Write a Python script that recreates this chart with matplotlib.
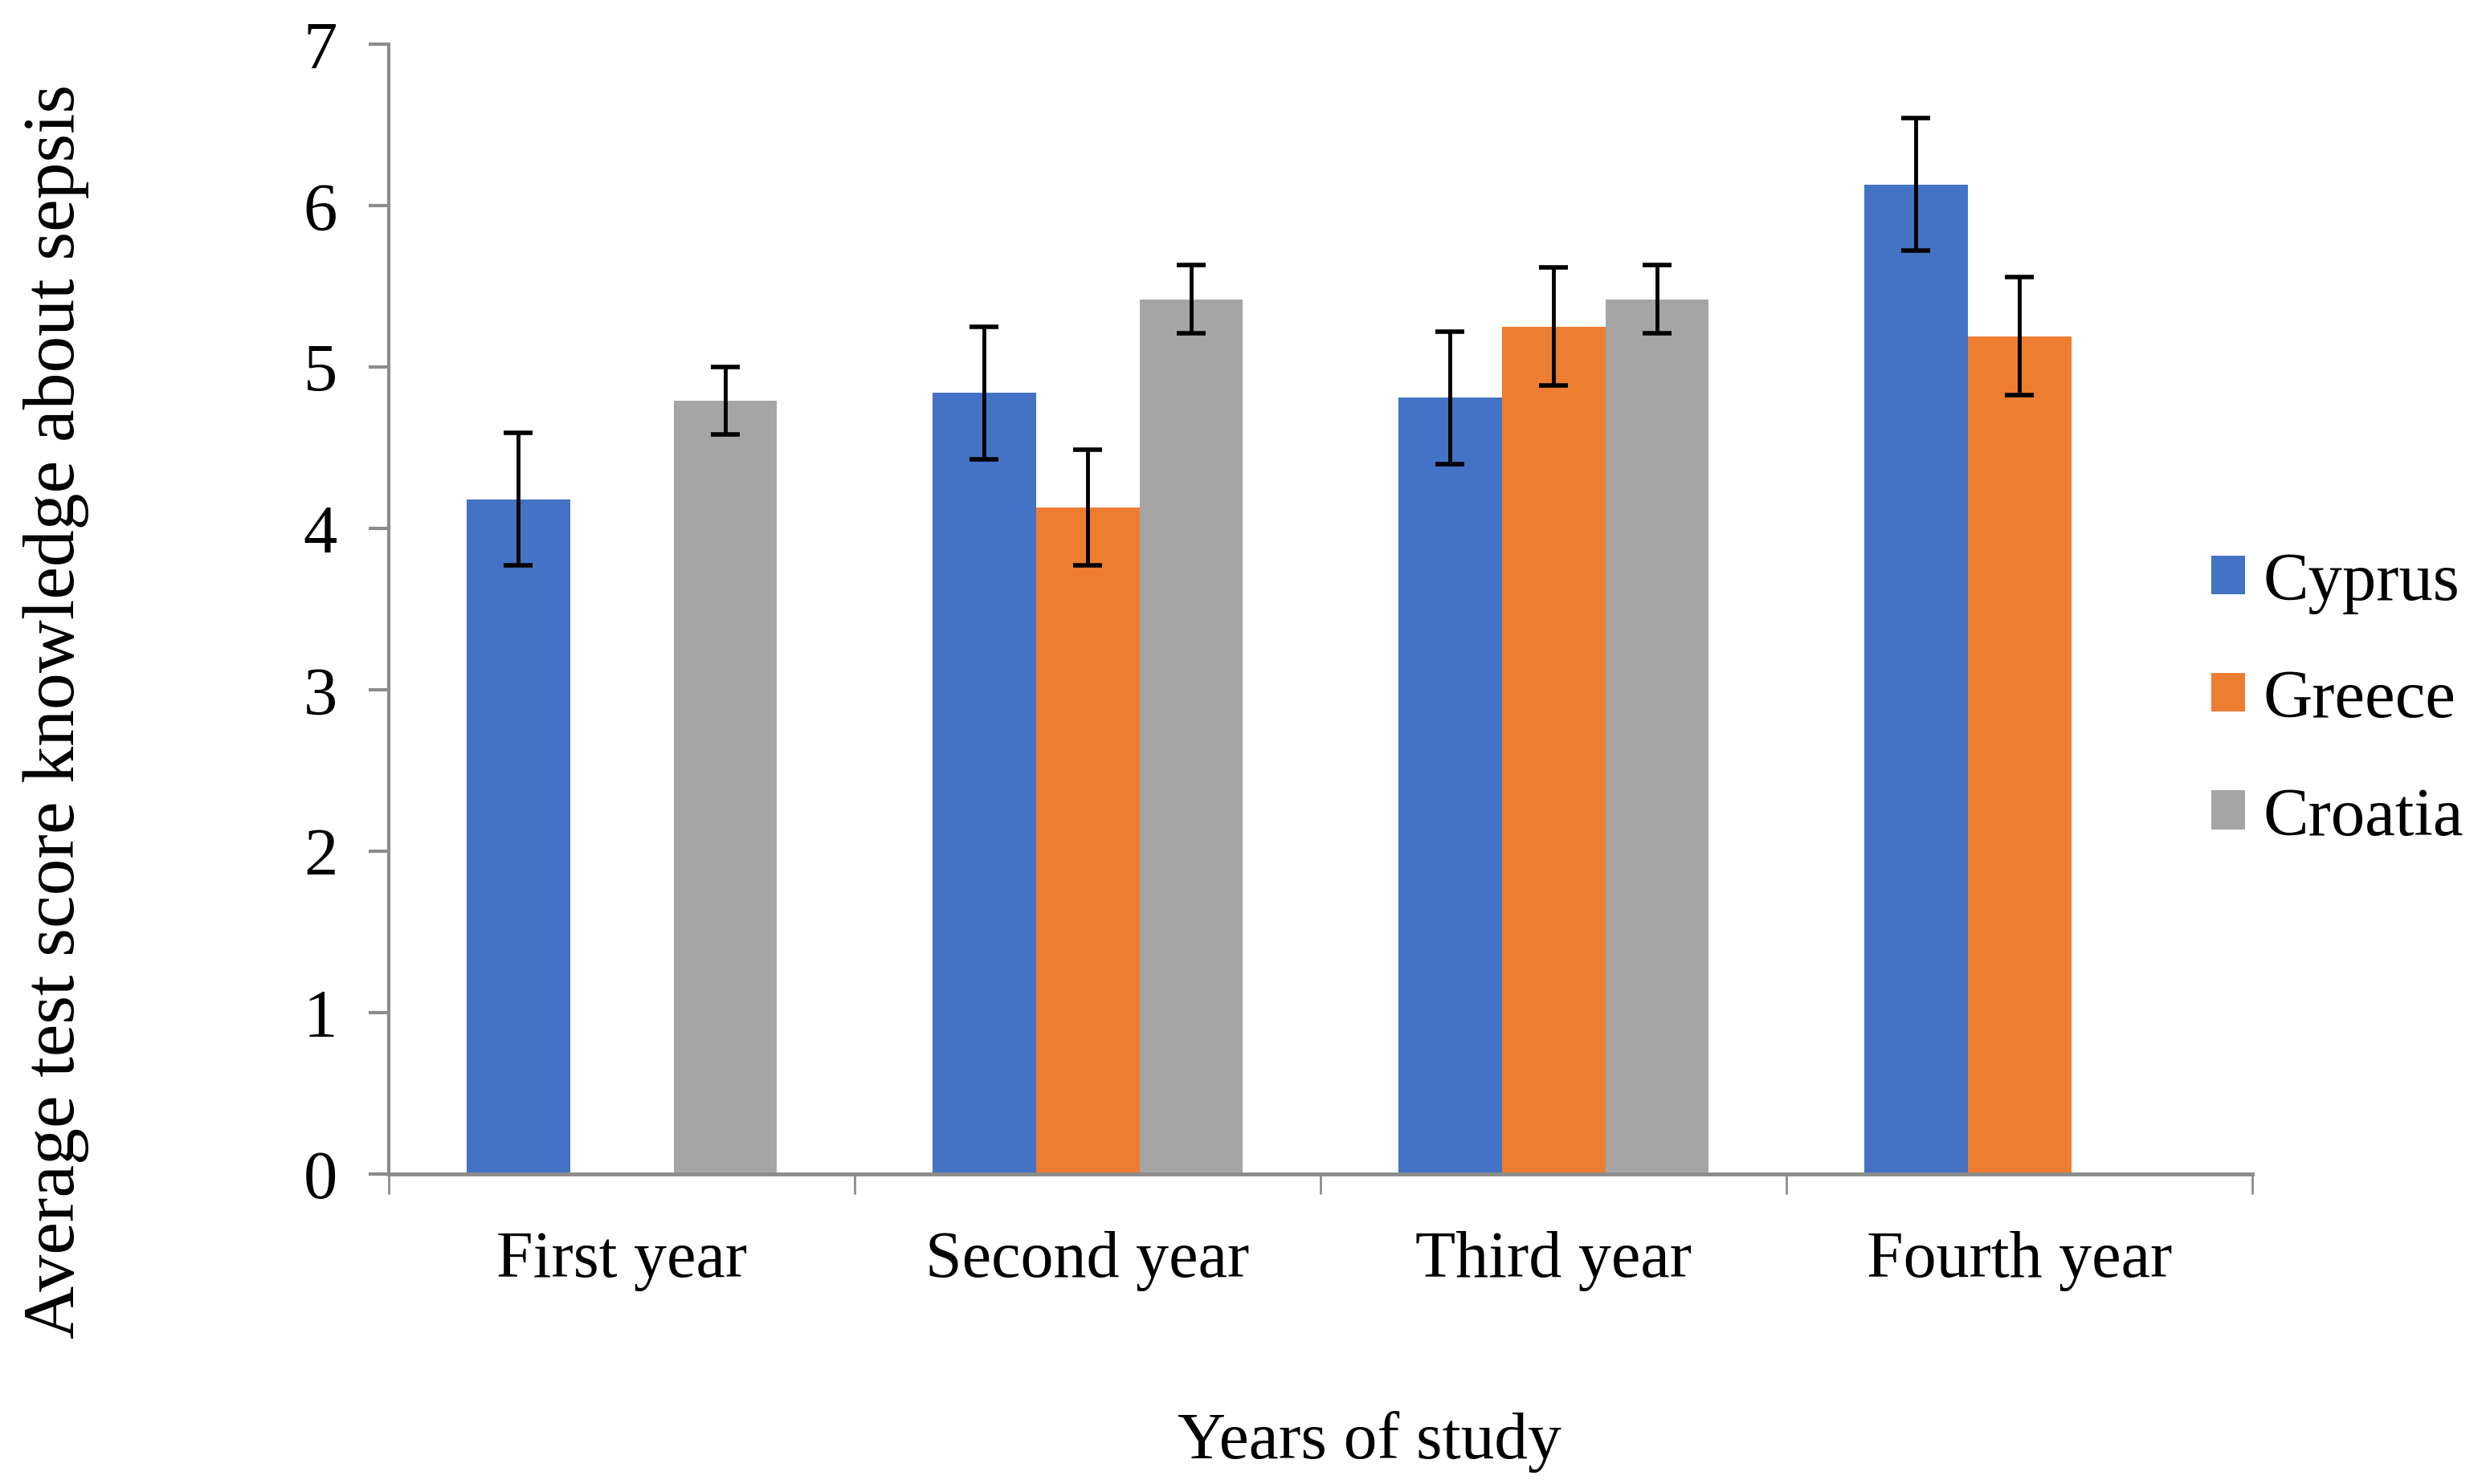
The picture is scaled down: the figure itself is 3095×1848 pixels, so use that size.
import matplotlib
matplotlib.use('Agg')
import matplotlib.pyplot as plt
import numpy as np

plt.rcParams['font.family'] = ['Liberation Serif', 'DejaVu Serif']

years = ['First year', 'Second year', 'Third year', 'Fourth year']
countries = ['Cyprus', 'Greece', 'Croatia']
colors = ['#4472C4', '#ED7D31', '#A5A5A5']

# mean score per year (nan = no bar)
cyprus = [4.18, 4.84, 4.81, 6.13]
greece = [np.nan, 4.13, 5.25, 5.19]
croatia = [4.79, 5.42, 5.42, np.nan]

cyprus_err = [0.41, 0.41, 0.41, 0.41]
greece_err = [np.nan, 0.36, 0.365, 0.365]
croatia_err = [0.21, 0.21, 0.21, np.nan]

values = [cyprus, greece, croatia]
errors = [cyprus_err, greece_err, croatia_err]

fig = plt.figure(figsize=(30.95, 18.49), dpi=100)
ax = fig.add_axes([0.1564, 0.2088, 0.7496, 0.7609])

x = np.arange(len(years)) + 0.5
w = 1 / 4.5
for i in range(3):
    xs = x + (i - 1) * w
    ax.bar(xs, values[i], width=w, color=colors[i], label=countries[i], zorder=2)
    ax.errorbar(xs, values[i], yerr=errors[i], fmt='none', ecolor='black',
                elinewidth=3.5, capsize=13, capthick=4, zorder=3)

ax.set_xlim(0, 4)
ax.set_ylim(0, 7)
ax.set_yticks(range(8))
ax.set_xticks(range(5))
ax.set_xticklabels([])
ax.set_xticks(x, minor=True)
ax.set_xticklabels(years, minor=True, fontsize=59)
ax.tick_params(axis='x', which='minor', length=0, pad=50)
ax.tick_params(axis='x', which='major', length=18, width=2, color='#8c8c8c', direction='out')
ax.tick_params(axis='y', length=18, width=3, color='#8c8c8c', labelsize=61, pad=28)

for s in ['top', 'right']:
    ax.spines[s].set_visible(False)
ax.spines['left'].set_color('#8c8c8c')
ax.spines['left'].set_linewidth(3)
ax.spines['bottom'].set_color('#8c8c8c')
ax.spines['bottom'].set_linewidth(3.5)

fig.text(0.0225, 0.521, 'Average test score knowledge about sepsis', fontsize=66,
         rotation=90, ha='center', va='center')
fig.text(0.551, 0.029, 'Years of study', fontsize=60, ha='center', va='center')

ax.legend(loc='center left', bbox_to_anchor=(0.8895, 0.528), bbox_transform=fig.transFigure,
          frameon=False, fontsize=61, handlelength=0.5, handleheight=0.5,
          handletextpad=0.26, labelspacing=0.82, borderpad=0, borderaxespad=0)

fig.savefig('out.png', dpi=100)
